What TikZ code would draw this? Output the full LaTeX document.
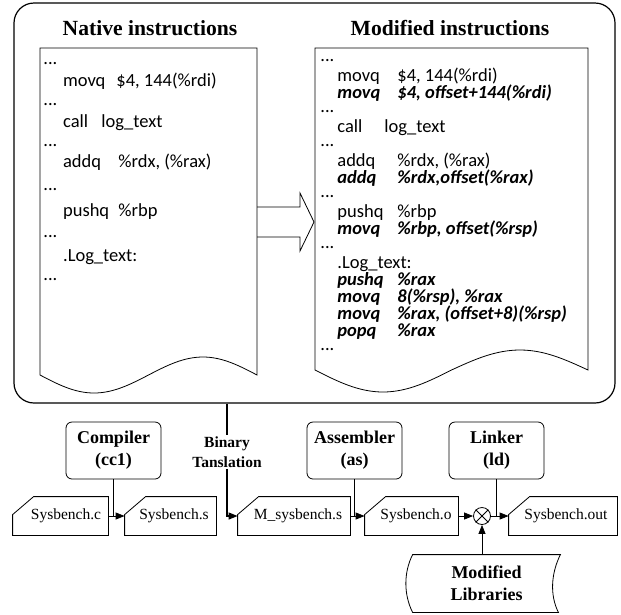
\documentclass[tikz,border=0pt]{standalone}
\usepackage{fontspec}
\setmainfont{Liberation Serif}
\newfontfamily\codefont{Carlito}
\usetikzlibrary{arrows.meta,calc}

\begin{document}
\begin{tikzpicture}[x=1pt,y=-1pt,line width=0.8pt,
  code/.style={anchor=base west, inner sep=0pt, font=\codefont\fontsize{18.5}{18.5}\selectfont},
  emph/.style={anchor=base west, inner sep=0pt, font=\codefont\fontsize{18.5}{18.5}\selectfont\bfseries\itshape},
  dots/.style={code},
  heading/.style={font=\bfseries\fontsize{21.6}{21.6}\selectfont, inner sep=0pt},
  tool/.style={draw, rounded corners=6pt, minimum width=95pt, minimum height=57pt,
    align=center, inner sep=0pt, font=\bfseries\fontsize{18}{22}\selectfont},
  file/.style={minimum height=38pt, inner sep=0pt},
  filetext/.style={inner sep=0pt, font=\fontsize{15.5}{15.5}\selectfont},
  flow/.style={-{Triangle[length=9pt,width=7pt]}},
]
\useasboundingbox (0,0) rectangle (621,614);

% outer frame holding both listings
\node[draw, rounded corners=20pt, minimum width=601pt, minimum height=400pt,
      line width=1.2pt, inner sep=0pt] (outer) at (314.5,203) {};
\node[heading] (tl) at (150,28) {Native instructions};
\node[heading] (tr) at (450,28) {Modified instructions};

% document shapes
\draw (257,48) -- (40,48) -- (40,375) sin (94,393) cos (148.5,375) sin (203,357) cos (257,375) -- cycle;
\draw (588,48) -- (315,48) -- (315,370) sin (383,392) cos (451.5,370) sin (520,350) cos (588,370) -- cycle;

% block arrow between the listings
\draw (257,207) -- (300,207) -- (300,193) -- (314,222) -- (300,251) -- (300,237) -- (257,237);

% native listing
\node[dots] (n0) at (43,64) {...};
\node[code] (n1) at (62.7,86) {movq};
\node[code] (n1o) at (116,86) {\$4, 144(\%rdi)};
\node[dots] (n2) at (43,105) {...};
\node[code] (n3) at (62.7,127) {call};
\node[code] (n3o) at (101,127) {log\_text};
\node[dots] (n4) at (43,146) {...};
\node[code] (n5) at (62.7,167) {addq};
\node[code] (n5o) at (118,167) {\%rdx, (\%rax)};
\node[dots] (n6) at (43,190) {...};
\node[code] (n7) at (62.7,216) {pushq};
\node[code] (n7o) at (118,216) {\%rbp};
\node[dots] (n8) at (43,237) {...};
\node[code] (n9) at (62.7,261) {.Log\_text:};
\node[dots] (n10) at (43,280) {...};

% modified listing
\node[dots] (m0) at (320,61) {...};
\node[code] (m1) at (337,81) {movq};
\node[code] (m1o) at (397,81) {\$4, 144(\%rdi)};
\node[emph] (m2) at (337,98) {movq};
\node[emph] (m2o) at (397,98) {\$4, offset+144(\%rdi)};
\node[dots] (m3) at (320,112) {...};
\node[code] (m4) at (337,132) {call};
\node[code] (m4o) at (384,132) {log\_text};
\node[dots] (m5) at (320,146) {...};
\node[code] (m6) at (337,166) {addq};
\node[code] (m6o) at (397,166) {\%rdx, (\%rax)};
\node[emph] (m7) at (337,183) {addq};
\node[emph] (m7o) at (397,183) {\%rdx,offset(\%rax)};
\node[dots] (m8) at (320,197) {...};
\node[code] (m9) at (337,217) {pushq};
\node[code] (m9o) at (397,217) {\%rbp};
\node[emph] (m10) at (337,234) {movq};
\node[emph] (m10o) at (397,234) {\%rbp, offset(\%rsp)};
\node[dots] (m11) at (320,248) {...};
\node[code] (m12) at (337,268) {.Log\_text:};
\node[emph] (m13) at (337,285) {pushq};
\node[emph] (m13o) at (397,285) {\%rax};
\node[emph] (m14) at (337,302) {movq};
\node[emph] (m14o) at (397,302) {8(\%rsp), \%rax};
\node[emph] (m15) at (337,319) {movq};
\node[emph] (m15o) at (397,319) {\%rax, (offset+8)(\%rsp)};
\node[emph] (m16) at (337,336) {popq};
\node[emph] (m16o) at (397,336) {\%rax};
\node[dots] (m17) at (320,350) {...};

% tool chain
\node[tool] (cc) at (113.5,450.5) {Compiler\\(cc1)};
\node[tool] (as) at (354.5,450.5) {Assembler\\(as)};
\node[tool] (ld) at (496.5,450.5) {Linker\\(ld)};
\node[align=center, inner sep=1pt, font=\bfseries\fontsize{15.5}{20}\selectfont] (bt) at (227,452) {Binary\\Tanslation};

\node[file, minimum width=95pt] (fc) at (60.5,516) {};
\node[file, minimum width=91pt] (fs) at (170.5,516) {};
\node[file, minimum width=112pt] (fm) at (294,516) {};
\node[file, minimum width=93pt] (fo) at (411.5,516) {};
\node[file, minimum width=108pt] (fout) at (563,516) {};
\foreach \f in {fc,fs,fm,fo,fout}
  \draw (\f.south west) -- ($(\f.north west)+(0,18)$) -- ($(\f.north west)+(21,0)$)
        -- (\f.north east) -- (\f.south east) -- cycle;
\node[filetext] (fct) at (66,516) {Sysbench.c};
\node[filetext] (fst) at (174,516) {Sysbench.s};
\node[filetext] (fmt) at (298,516) {M\_sysbench.s};
\node[filetext] (fot) at (416,516) {Sysbench.o};
\node[filetext] (foutt) at (566,516) {Sysbench.out};

\node[draw, circle, minimum size=17pt, inner sep=0pt] (mix) at (482,516) {};
\draw (mix.north west) -- (mix.south east) (mix.north east) -- (mix.south west);

\node[minimum width=147pt, minimum height=57pt, inner sep=0pt, align=center,
      font=\bfseries\fontsize{18}{22}\selectfont] (ml) at (486.5,583.5) {Modified\\Libraries};
\draw (ml.north west) .. controls ($(ml.north west)+(-9,18)$) and ($(ml.south west)+(-9,-18)$) .. (ml.south west)
   -- ($(ml.south east)+(-2,0)$) .. controls ($(ml.south east)+(-11,-18)$) and ($(ml.north east)+(-9,18)$) .. (ml.north east)
   -- cycle;

% connectors
\draw[flow] (fc.east) -- (fs.west);
\draw (cc) -- (cc |- fc.east);
\draw[line width=1.2pt] (outer.south -| bt) -- (bt.north);
\draw[line width=1.2pt, flow] (bt.south) |- (fm.west);
\draw[flow] (fm.east) -- (fo.west);
\draw (as) -- (as |- fm.east);
\draw[flow] (fo.east) -- (mix.west);
\draw[flow] (mix.east) -- (fout.west);
\draw (ld) -- (ld |- mix.east);
\draw[flow] (ml.north -| mix) -- (mix.south);
\end{tikzpicture}
\end{document}
